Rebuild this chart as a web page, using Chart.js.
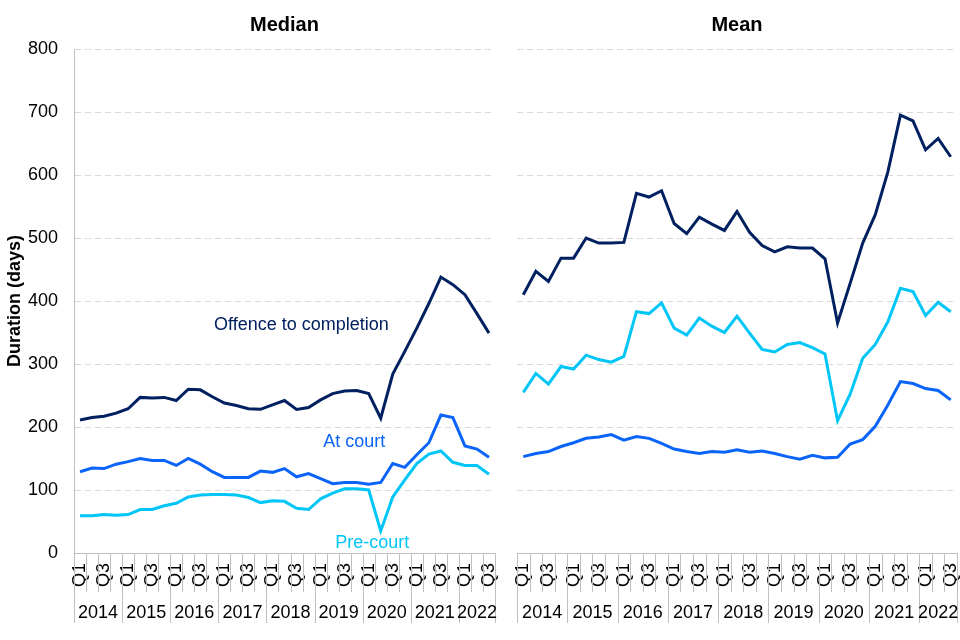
<!DOCTYPE html>
<html>
<head>
<meta charset="utf-8">
<script src="https://cdn.jsdelivr.net/npm/chart.js@4"></script>
<style>
  html, body { margin: 0; padding: 0; background: #fff; overflow: hidden; }
  #wrap { position: relative; width: 960px; height: 640px; }
  canvas { position: absolute; top: 0; }
  #median { left: 0; }
  #mean { left: 505px; }
</style>
</head>
<body>
<div id="wrap">
  <canvas id="median" width="505" height="640"></canvas>
  <canvas id="mean" width="455" height="640"></canvas>
</div>
<script>
// --- Data ---
const years = ['2014', '2015', '2016', '2017', '2018', '2019', '2020', '2021', '2022'];
const quarters = ['Q1', 'Q2', 'Q3', 'Q4'];
const shownQuarters = ['Q1', 'Q3'];
const yTicks = [0, 100, 200, 300, 400, 500, 600, 700, 800];

// 2014 Q1 .. 2022 Q3
const categories = [];
years.forEach(y => quarters.forEach(q => categories.push(y + ' ' + q)));
categories.length = 35;

const medianOffence = [211, 215, 217, 222, 229, 247, 246, 247, 242, 260, 259, 248, 238, 234, 229, 228,
    235, 242, 228, 231, 243, 253, 257, 258, 253, 214, 284, 320, 357, 396, 438, 426, 410, 380, 349];
const medianAtCourt = [129, 135, 134, 141, 145, 150, 147, 147, 139, 150, 141, 129, 120, 120, 120, 130,
    128, 134, 121, 126, 118, 110, 112, 112, 109, 112, 142, 136, 156, 175, 219, 215, 170, 165, 152];
const medianPreCourt = [59, 59, 61, 60, 61, 69, 69, 75, 79, 89, 92, 93, 93, 92, 88, 80,
    83, 82, 71, 69, 86, 95, 102, 102, 100, 35, 89, 116, 142, 157, 162, 144, 139, 139, 125];

const meanOffence = [410, 447, 431, 468, 468, 500, 492, 492, 493, 571, 565, 575, 523, 507, 533, 522,
    512, 542, 509, 488, 478, 486, 484, 484, 467, 365, 428, 492, 537, 605, 695, 686, 640, 658, 629];
const meanAtCourt = [153, 158, 161, 169, 175, 182, 184, 188, 179, 185, 182, 174, 165, 161, 158, 161,
    160, 164, 160, 162, 158, 153, 149, 155, 151, 152, 173, 180, 201, 235, 272, 269, 261, 258, 243];
const meanPreCourt = [255, 285, 268, 296, 292, 314, 307, 303, 312, 383, 380, 397, 357, 346, 373, 360,
    350, 376, 349, 323, 319, 331, 334, 326, 316, 210, 252, 309, 331, 367, 420, 415, 377, 398, 383];

const colors = { offence: '#002060', atCourt: '#0a64fa', preCourt: '#00c6f8' };
const fontFamily = '"Liberation Sans", Arial, sans-serif';

// in-chart series labels for the median panel (category index, value)
const medianNotes = [
    { text: 'Offence to completion', idx: 18.4, val: 362, color: colors.offence },
    { text: 'At court', idx: 22.8, val: 176, color: colors.atCourt },
    { text: 'Pre-court', idx: 24.3, val: 16, color: colors.preCourt }
];

// --- Plugin: panel title, year row, separators, notes ---
const panelDecor = {
    id: 'panelDecor',
    afterDraw(chart, args, opts) {
        const ctx = chart.ctx;
        const x = chart.scales.x;
        const y = chart.scales.y;
        const area = chart.chartArea;
        const step = x.getPixelForValue(1) - x.getPixelForValue(0);

        ctx.save();
        // title
        ctx.fillStyle = '#000';
        ctx.font = 'bold 20px ' + fontFamily;
        ctx.textAlign = 'center';
        ctx.textBaseline = 'middle';
        ctx.fillText(opts.title, (area.left + area.right) / 2, 25);

        // separators below the axis
        ctx.strokeStyle = '#bfbfbf';
        ctx.lineWidth = 1;
        for (let i = 0; i <= categories.length; i++) {
            const px = Math.round(x.getPixelForValue(i) - step / 2) + 0.5;
            const isYear = i % 4 === 0 || i === categories.length;
            ctx.beginPath();
            ctx.moveTo(px, x.top);
            ctx.lineTo(px, x.top + (isYear ? 70 : 39));
            ctx.stroke();
        }

        // year labels
        ctx.fillStyle = '#000';
        ctx.font = '18px ' + fontFamily;
        years.forEach((yr, k) => {
            const first = k * 4;
            const last = Math.min(first + 3, categories.length - 1);
            const cx = (x.getPixelForValue(first) + x.getPixelForValue(last)) / 2;
            ctx.fillText(yr, cx, x.top + 60);
        });

        // series notes
        (opts.notes || []).forEach(n => {
            ctx.fillStyle = n.color;
            ctx.font = '18px ' + fontFamily;
            const px = x.getPixelForValue(0) + step * n.idx;
            ctx.fillText(n.text, px, y.getPixelForValue(n.val));
        });
        ctx.restore();
    }
};

function makeDatasets(offence, atCourt, preCourt) {
    const base = { borderWidth: 3, pointRadius: 0, tension: 0, fill: false };
    return [
        { ...base, label: 'Offence to completion', data: offence, borderColor: colors.offence },
        { ...base, label: 'At court', data: atCourt, borderColor: colors.atCourt },
        { ...base, label: 'Pre-court', data: preCourt, borderColor: colors.preCourt }
    ];
}

function makeChart(id, title, datasets, showY, yWidth, padRight, notes) {
    return new Chart(document.getElementById(id), {
        type: 'line',
        data: { labels: categories, datasets: datasets },
        plugins: [panelDecor],
        options: {
            responsive: false,
            animation: false,
            layout: { padding: { top: 49, right: padRight, left: 0, bottom: 0 } },
            plugins: {
                legend: { display: false },
                tooltip: { enabled: false },
                panelDecor: { title: title, notes: notes }
            },
            scales: {
                x: {
                    type: 'category',
                    offset: true,
                    grid: { display: false, drawTicks: false },
                    border: { display: true, color: '#bfbfbf', width: 1 },
                    ticks: {
                        autoSkip: false,
                        minRotation: 90,
                        maxRotation: 90,
                        padding: 10,
                        color: '#000',
                        font: { family: fontFamily, size: 18 },
                        callback: (val, i) => {
                            const q = categories[i].split(' ')[1];
                            return shownQuarters.includes(q) ? q : '';
                        }
                    },
                    afterFit: s => { s.height = 87; s.paddingLeft = 0; s.paddingRight = 0; }
                },
                y: {
                    min: yTicks[0],
                    max: yTicks[yTicks.length - 1],
                    grid: { color: '#d9d9d9', lineWidth: 1, drawTicks: false },
                    border: { display: showY, color: '#bfbfbf', width: 1, dash: [6, 4] },
                    ticks: {
                        display: showY,
                        stepSize: 100,
                        padding: 16,
                        color: '#000',
                        font: { family: fontFamily, size: 18 }
                    },
                    title: {
                        display: showY,
                        text: 'Duration (days)',
                        color: '#000',
                        font: { family: fontFamily, size: 18, weight: 'bold' },
                        padding: { top: 4, bottom: 0 }
                    },
                    afterFit: s => { s.width = yWidth; }
                }
            }
        }
    });
}

makeChart('median', 'Median', makeDatasets(medianOffence, medianAtCourt, medianPreCourt), true, 74, 10, medianNotes);
makeChart('mean', 'Mean', makeDatasets(meanOffence, meanAtCourt, meanPreCourt), false, 12, 3, []);
</script>
</body>
</html>
